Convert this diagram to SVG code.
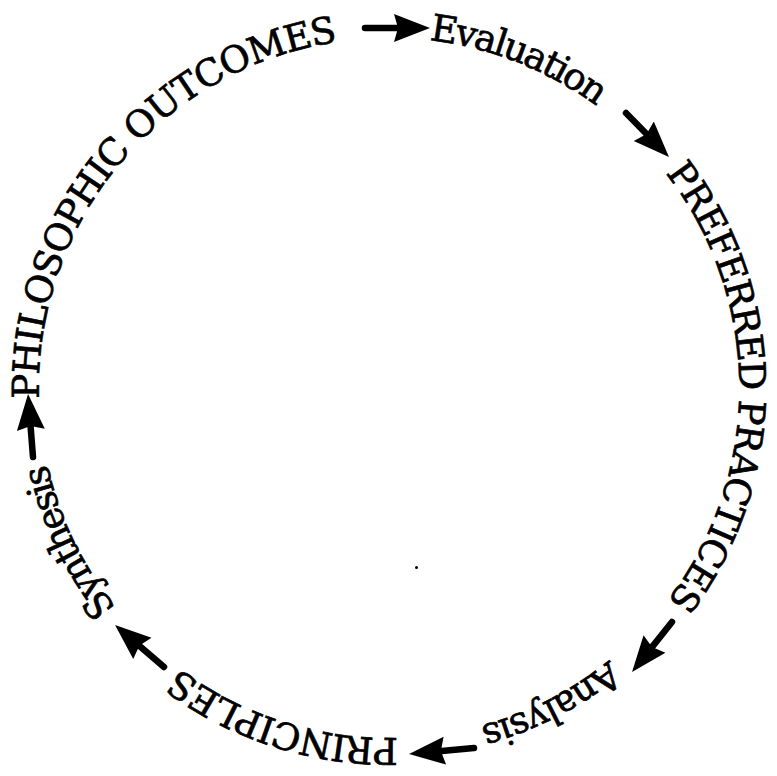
<svg xmlns="http://www.w3.org/2000/svg" width="777" height="776" viewBox="0 0 777 776">
<style>
.lbl{font-family:"DejaVu Serif","Liberation Serif",serif;font-size:37px;fill:#000;stroke:#000;stroke-width:0.7;}
.arr{stroke:#000;stroke-width:6.5;stroke-linecap:round;fill:none;marker-end:url(#head);}
</style>
<defs>
<path id="ring" d="M389,38 A350,350 0 1 1 389,738 A350,350 0 1 1 389,38" fill="none"/>
<marker id="head" markerUnits="userSpaceOnUse" markerWidth="36" markerHeight="30" viewBox="0 0 36 30" refX="6" refY="15" orient="auto"><path d="M0,1 L36,15 L0,29 L4,15 Z" fill="#000"/></marker>
</defs>
<rect width="777" height="776" fill="#fff"/>
<g id="node-philosophic-outcomes"><text class="lbl"><textPath href="#ring" startOffset="1638.3" textLength="509">PHILOSOPHIC OUTCOMES</textPath></text></g>
<g id="node-evaluation"><text class="lbl"><textPath href="#ring" startOffset="40.3" textLength="182">Evaluation</textPath></text></g>
<g id="node-preferred-practices"><text class="lbl"><textPath href="#ring" startOffset="318.3" textLength="460">PREFERRED PRACTICES</textPath></text></g>
<g id="node-analysis"><text class="lbl"><textPath href="#ring" startOffset="861.3" textLength="146">Analysis</textPath></text></g>
<g id="node-principles"><text class="lbl"><textPath href="#ring" startOffset="1090.4" textLength="234">PRINCIPLES</textPath></text></g>
<g id="node-synthesis"><text class="lbl"><textPath href="#ring" startOffset="1411.7" textLength="161">Synthesis</textPath></text></g>
<g id="connectors">
<line class="arr" x1="365" y1="28" x2="400" y2="28"/>
<line class="arr" x1="626" y1="113" x2="648" y2="135.5"/>
<line class="arr" x1="672" y1="622" x2="650.75" y2="648.6"/>
<line class="arr" x1="474" y1="748" x2="438.9" y2="751.2"/>
<line class="arr" x1="164" y1="667" x2="137.8" y2="644.5"/>
<line class="arr" x1="33" y1="457" x2="30.4" y2="423.9"/>
</g>
<circle cx="416.5" cy="567.5" r="1.5" fill="#000"/>
</svg>
